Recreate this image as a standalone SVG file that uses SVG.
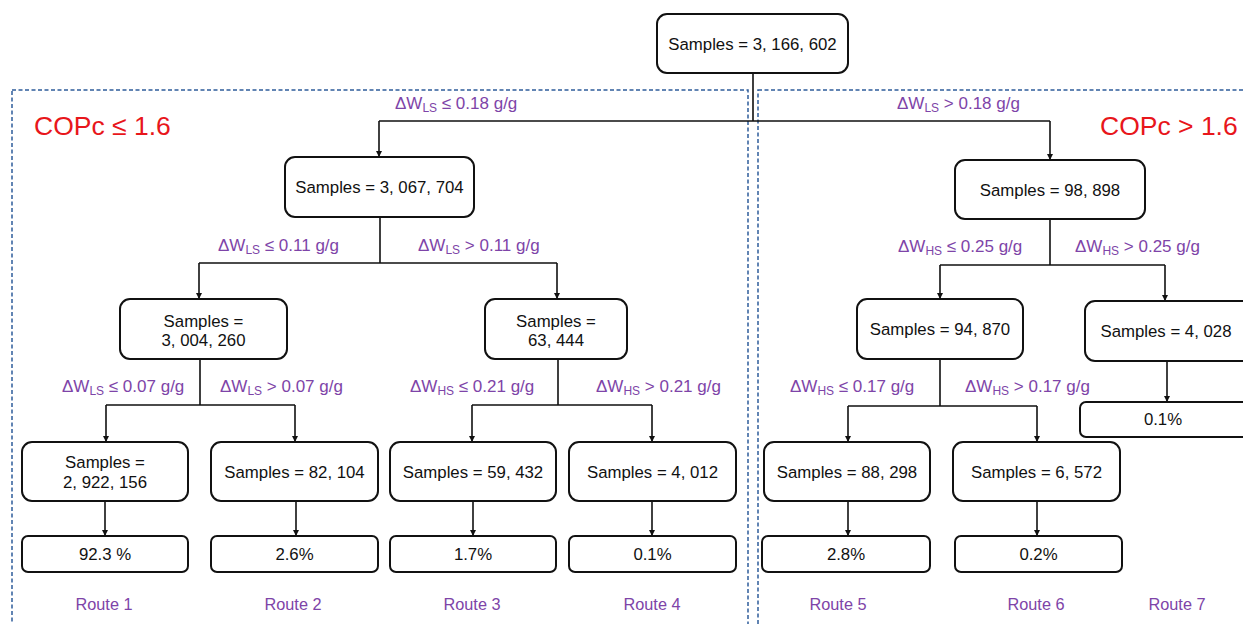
<svg xmlns="http://www.w3.org/2000/svg" width="1243" height="624" viewBox="0 0 1243 624">
<style>
.bg{fill:#fff}
.frame{fill:none;stroke:#2E5C9A;stroke-width:1.5;stroke-dasharray:4 2.5}
.node rect{fill:#fff;stroke:#111;stroke-width:2}
.node text{font-family:"Liberation Sans",Arial,sans-serif;font-size:16.8px;fill:#111;text-anchor:middle}
.conn path{fill:none;stroke:#111;stroke-width:1.6}
.cond{font-family:"Liberation Sans",Arial,sans-serif;font-size:17px;fill:#7E44A8}
.sub{font-size:12px}
.route{font-family:"Liberation Sans",Arial,sans-serif;font-size:16.3px;fill:#7E44A8;text-anchor:middle}
.cop{font-family:"Liberation Sans",Arial,sans-serif;font-size:26.5px;fill:#E8161B}
</style>
<defs>
<marker id="ah" viewBox="0 0 10 10" refX="10" refY="5" markerWidth="6" markerHeight="6" orient="auto" markerUnits="userSpaceOnUse"><path d="M0,0 L10,5 L0,10 z" fill="#111"/></marker>
</defs>
<rect class="bg" x="0" y="0" width="1243" height="624"/>
<g id="frames">
<rect class="frame" x="12" y="90" width="736" height="560"/>
<rect class="frame" x="758" y="90" width="500" height="560"/>
<text class="cop" x="34" y="135">COPc ≤ 1.6</text>
<text class="cop" x="1100" y="135">COPc &gt; 1.6</text>
</g>
<g id="connectors" class="conn">
<path d="M753,73 V121 M379,121 H1050"/>
<path d="M379,121 V157" marker-end="url(#ah)"/>
<path d="M1050,121 V160" marker-end="url(#ah)"/>
<path d="M380,217 V263 M199,263 H557"/>
<path d="M199,263 V299" marker-end="url(#ah)"/>
<path d="M557,263 V299" marker-end="url(#ah)"/>
<path d="M1050,219 V265 M940,265 H1165"/>
<path d="M940,265 V299" marker-end="url(#ah)"/>
<path d="M1165,265 V301" marker-end="url(#ah)"/>
<path d="M200,359 V405 M106,405 H295"/>
<path d="M106,405 V442" marker-end="url(#ah)"/>
<path d="M295,405 V442" marker-end="url(#ah)"/>
<path d="M558,359 V405 M472,405 H652"/>
<path d="M472,405 V442" marker-end="url(#ah)"/>
<path d="M652,405 V442" marker-end="url(#ah)"/>
<path d="M940,359 V406 M848,406 H1037"/>
<path d="M848,406 V442" marker-end="url(#ah)"/>
<path d="M1037,406 V442" marker-end="url(#ah)"/>
<path d="M1167,361 V402" marker-end="url(#ah)"/>
<path d="M105,501 V536" marker-end="url(#ah)"/>
<path d="M296,501 V536" marker-end="url(#ah)"/>
<path d="M473,501 V536" marker-end="url(#ah)"/>
<path d="M652,501 V536" marker-end="url(#ah)"/>
<path d="M848,501 V536" marker-end="url(#ah)"/>
<path d="M1037,501 V536" marker-end="url(#ah)"/>
</g>
<g id="labels">
<text class="cond" x="395" y="109">ΔW<tspan class="sub" dy="3">LS</tspan><tspan dy="-3"> ≤ 0.18 g/g</tspan></text>
<text class="cond" x="897" y="109">ΔW<tspan class="sub" dy="3">LS</tspan><tspan dy="-3"> &gt; 0.18 g/g</tspan></text>
<text class="cond" x="218" y="251">ΔW<tspan class="sub" dy="3">LS</tspan><tspan dy="-3"> ≤ 0.11 g/g</tspan></text>
<text class="cond" x="418" y="251">ΔW<tspan class="sub" dy="3">LS</tspan><tspan dy="-3"> &gt; 0.11 g/g</tspan></text>
<text class="cond" x="898" y="252">ΔW<tspan class="sub" dy="3">HS</tspan><tspan dy="-3"> ≤ 0.25 g/g</tspan></text>
<text class="cond" x="1075" y="252">ΔW<tspan class="sub" dy="3">HS</tspan><tspan dy="-3"> &gt; 0.25 g/g</tspan></text>
<text class="cond" x="62" y="392">ΔW<tspan class="sub" dy="3">LS</tspan><tspan dy="-3"> ≤ 0.07 g/g</tspan></text>
<text class="cond" x="220" y="392">ΔW<tspan class="sub" dy="3">LS</tspan><tspan dy="-3"> &gt; 0.07 g/g</tspan></text>
<text class="cond" x="410" y="392">ΔW<tspan class="sub" dy="3">HS</tspan><tspan dy="-3"> ≤ 0.21 g/g</tspan></text>
<text class="cond" x="596" y="392">ΔW<tspan class="sub" dy="3">HS</tspan><tspan dy="-3"> &gt; 0.21 g/g</tspan></text>
<text class="cond" x="790" y="392">ΔW<tspan class="sub" dy="3">HS</tspan><tspan dy="-3"> ≤ 0.17 g/g</tspan></text>
<text class="cond" x="965" y="392">ΔW<tspan class="sub" dy="3">HS</tspan><tspan dy="-3"> &gt; 0.17 g/g</tspan></text>
</g>
<g id="n-root" class="node"><rect x="657" y="14" width="191" height="59" rx="10"/><text x="752.5" y="50">Samples = 3, 166, 602</text></g>
<g id="n-3067704" class="node"><rect x="285" y="157" width="189" height="60" rx="10"/><text x="379.5" y="193">Samples = 3, 067, 704</text></g>
<g id="n-98898" class="node"><rect x="955" y="160" width="190" height="59" rx="10"/><text x="1050" y="196">Samples = 98, 898</text></g>
<g id="n-3004260" class="node"><rect x="120" y="299" width="167" height="60" rx="10"/><text x="203.5" y="327">Samples =</text><text x="203.5" y="346">3, 004, 260</text></g>
<g id="n-63444" class="node"><rect x="485" y="299" width="142" height="60" rx="10"/><text x="556" y="327">Samples =</text><text x="556" y="346">63, 444</text></g>
<g id="n-94870" class="node"><rect x="857" y="299" width="166" height="60" rx="10"/><text x="940" y="335">Samples = 94, 870</text></g>
<g id="n-4028" class="node"><rect x="1085" y="301" width="170" height="60" rx="10"/><text x="1166" y="337">Samples = 4, 028</text></g>
<g id="n-route7" class="node"><rect x="1080" y="402" width="175" height="35" rx="6"/><text x="1163" y="425">0.1%</text></g>
<g id="n-2922156" class="node"><rect x="22" y="442" width="166" height="59" rx="10"/><text x="105" y="468">Samples =</text><text x="105" y="488">2, 922, 156</text></g>
<g id="n-82104" class="node"><rect x="211" y="442" width="167" height="59" rx="10"/><text x="294.5" y="478">Samples = 82, 104</text></g>
<g id="n-59432" class="node"><rect x="390" y="442" width="166" height="59" rx="10"/><text x="473" y="478">Samples = 59, 432</text></g>
<g id="n-4012" class="node"><rect x="569" y="442" width="167" height="59" rx="10"/><text x="652.5" y="478">Samples = 4, 012</text></g>
<g id="n-88298" class="node"><rect x="764" y="442" width="166" height="59" rx="10"/><text x="847" y="478">Samples = 88, 298</text></g>
<g id="n-6572" class="node"><rect x="953" y="442" width="167" height="59" rx="10"/><text x="1036.5" y="478">Samples = 6, 572</text></g>
<g id="n-route1" class="node"><rect x="22" y="536" width="166" height="36" rx="6"/><text x="105" y="560">92.3 %</text></g>
<g id="n-route2" class="node"><rect x="211" y="536" width="167" height="36" rx="6"/><text x="294.5" y="560">2.6%</text></g>
<g id="n-route3" class="node"><rect x="390" y="536" width="166" height="36" rx="6"/><text x="473" y="560">1.7%</text></g>
<g id="n-route4" class="node"><rect x="569" y="536" width="167" height="36" rx="6"/><text x="652.5" y="560">0.1%</text></g>
<g id="n-route5" class="node"><rect x="762" y="536" width="168" height="36" rx="6"/><text x="846" y="560">2.8%</text></g>
<g id="n-route6" class="node"><rect x="955" y="536" width="167" height="36" rx="6"/><text x="1038.5" y="560">0.2%</text></g>
<g id="routes">
<text class="route" x="104" y="610">Route 1</text>
<text class="route" x="293" y="610">Route 2</text>
<text class="route" x="472" y="610">Route 3</text>
<text class="route" x="652" y="610">Route 4</text>
<text class="route" x="838" y="610">Route 5</text>
<text class="route" x="1036" y="610">Route 6</text>
<text class="route" x="1177" y="610">Route 7</text>
</g>
</svg>
